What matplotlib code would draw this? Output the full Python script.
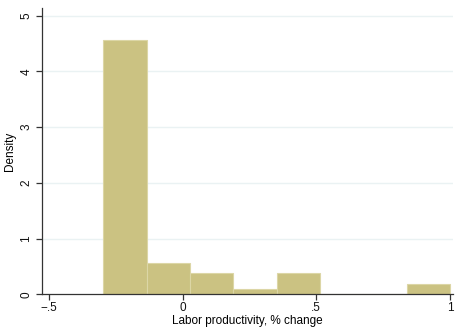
import numpy as np
import matplotlib
matplotlib.use("Agg")
import matplotlib.pyplot as plt

# histogram bins (percent change) and counts per bin
bin_edges = [-0.296, -0.134, 0.028, 0.190, 0.352, 0.514, 0.676, 0.838, 1.000]
bin_counts = [48, 6, 4, 1, 4, 0, 0, 2]

x_ticks = [-0.5, 0, 0.5, 1]
x_tick_labels = ["\u2212.5", "0", ".5", "1"]
y_ticks = [0, 1, 2, 3, 4, 5]

plt.rcParams['font.family'] = ['Liberation Sans', 'DejaVu Sans']

edges = np.array(bin_edges)
counts = np.array(bin_counts, dtype=float)
widths = np.diff(edges)
density = counts / (counts.sum() * widths)

fig = plt.figure(figsize=(4.56, 3.27), dpi=100)
ax = fig.add_axes([0.092, 0.1, 0.901, 0.876])

for y in y_ticks[1:]:
    ax.axhline(y, color="#eaf2f3", lw=1.0, zorder=0)

ax.bar(edges[:-1], density, width=widths, align="edge",
       color="#cbc282", edgecolor="#dcd6a6", linewidth=0.8, zorder=2)

ax.set_xlim(-0.526, 1.011)
ax.set_ylim(0, 5.14)

ax.set_xticks(x_ticks)
ax.set_xticklabels(x_tick_labels)
ax.set_yticks(y_ticks)
ax.set_yticklabels([str(v) for v in y_ticks], rotation=90, va="center")

for side in ["top", "right"]:
    ax.spines[side].set_visible(False)
for side in ["left", "bottom"]:
    ax.spines[side].set_color("#333333")
    ax.spines[side].set_linewidth(0.9)

ax.tick_params(axis="both", direction="out", length=4, width=0.9,
               color="#333333", labelsize=8.5, labelcolor="#111111")
ax.tick_params(axis="x", pad=1.5)
ax.tick_params(axis="y", pad=3)

ax.set_xlabel("Labor productivity, % change", fontsize=8.5, labelpad=0.5)
ax.set_ylabel("Density", fontsize=8.5, labelpad=3)

fig.savefig("out.png", dpi=100)
